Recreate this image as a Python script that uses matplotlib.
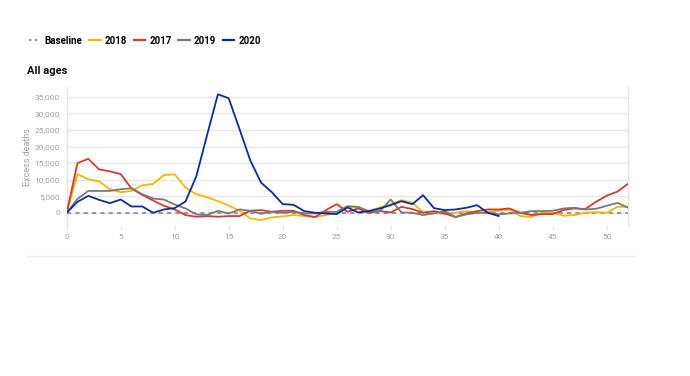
import matplotlib
matplotlib.use("Agg")
import matplotlib.pyplot as plt
from matplotlib.ticker import FuncFormatter
from matplotlib.lines import Line2D

plt.rcParams['font.family'] = ['Roboto', 'DejaVu Sans']

weeks_full = list(range(0, 53))
weeks_2020 = list(range(0, 41))

deaths_2017 = [0, 15000, 16300, 13100, 12500, 11700, 7300, 5400, 3700, 2100, 1000, -700, -1200, -1000, -1200, -1000,
               -1000, 600, 800, 300, 600, 600, -700, -1300, 800, 2600, 300, 1300, 0, 500, 100, 1800, 1100, 0, 500,
               -200, -1300, -200, 500, 1000, 1000, 1300, 0, -700, -400, -400, 800, 1300, 1100, 3300, 5150, 6400, 8800]
deaths_2018 = [0, 11700, 10100, 9500, 7100, 6200, 6600, 8300, 8700, 11400, 11600, 7600, 5600, 4700, 3500, 2200,
               600, -1700, -2200, -1400, -1100, -700, -1000, -1300, -700, 0, 1800, 1600, 600, 1600, 2600, 3800, 3000,
               200, 0, -400, 0, 500, -200, 300, 600, 1000, -1000, -1300, 0, 0, -900, -700, 0, 200, 0, 1800, 1800]
deaths_2019 = [0, 4200, 6600, 6600, 6600, 7100, 7400, 5600, 4300, 4000, 2500, 1300, -500, -700, 600, -200,
               1000, 600, -300, 300, 0, 300, -200, -200, 300, 300, 2000, 1800, 300, 500, 4000, 100, 0,
               -700, -200, 500, -1300, -500, 0, 0, -500, -200, 0, 500, 500, 600, 1300, 1500, 1000, 1200, 2100, 3000, 1500]
deaths_2020 = [0, 3300, 5100, 3900, 2900, 4000, 1900, 1900, 0, 1000, 1400, 3400, 11000, 23500, 35800, 34600,
               25300, 15800, 9100, 6200, 2600, 2400, 500, 0, -200, -400, 1600, 100, 500, 1300, 2300, 3500, 2600,
               5300, 1400, 800, 1000, 1500, 2300, 0, -1000]
baseline = [0] * 53

series = [("2018", deaths_2018, weeks_full, "#f2b705"),
          ("2017", deaths_2017, weeks_full, "#d13b33"),
          ("2019", deaths_2019, weeks_full, "#7a7a7a"),
          ("2020", deaths_2020, weeks_2020, "#0a2d9c")]

fig = plt.figure(figsize=(6.9, 3.76), dpi=100)
ax = fig.add_axes([66.7 / 690, 1 - 226 / 376, (628.3 - 66.7) / 690, (226 - 87) / 376])

ax.plot(weeks_full, baseline, color="#999999", linestyle=(0, (2, 2)), linewidth=1.5, zorder=2)
for name, vals, wk, col in series:
    ax.plot(wk, vals, color=col, linewidth=1.3, zorder=3)

ax.set_xlim(0, 52)
ax.set_ylim(-4000, 38000)
ax.set_xticks(range(0, 51, 5))
ax.set_yticks(range(0, 35001, 5000))
ax.yaxis.set_major_formatter(FuncFormatter(lambda v, p: f"{int(v):,}"))
ax.grid(axis='y', color="#e6e6e6", linewidth=1)
ax.set_axisbelow(True)
for s in ['top', 'bottom']:
    ax.spines[s].set_visible(False)
for s in ['left', 'right']:
    ax.spines[s].set_color("#e3e3e3")
    ax.spines[s].set_linewidth(1)
ax.tick_params(axis='y', length=0, labelsize=6, labelcolor="#a0a0a0", pad=5)
ax.tick_params(axis='x', length=3, color="#dddddd", labelsize=6, labelcolor="#a0a0a0", pad=3)
ax.set_ylabel("Excess deaths", fontsize=6.5, color="#a0a0a0", labelpad=2)

# Legend
handles = [Line2D([0], [0], color="#999999", linestyle=(0, (1.2, 1.5)), linewidth=1.5)]
labels = ["Baseline"]
for name, vals, wk, col in series:
    handles.append(Line2D([0], [0], color=col, linewidth=1.6))
    labels.append(name)
leg = fig.legend(handles, labels, loc='upper left', bbox_to_anchor=(20 / 690, 1 - 27 / 376), ncol=5, frameon=False,
                 handlelength=1.2, handletextpad=0.4, columnspacing=0.7, prop={'weight': 'bold', 'size': 7})

fig.text(27 / 690, 1 - 71 / 376, "All ages", fontsize=8, fontweight='bold', color="#111111", va='center')

fig.add_artist(Line2D([27 / 690, 635 / 690], [1 - 256 / 376, 1 - 256 / 376], color="#eeeeee", linewidth=1))

fig.savefig("out.png", dpi=100)
